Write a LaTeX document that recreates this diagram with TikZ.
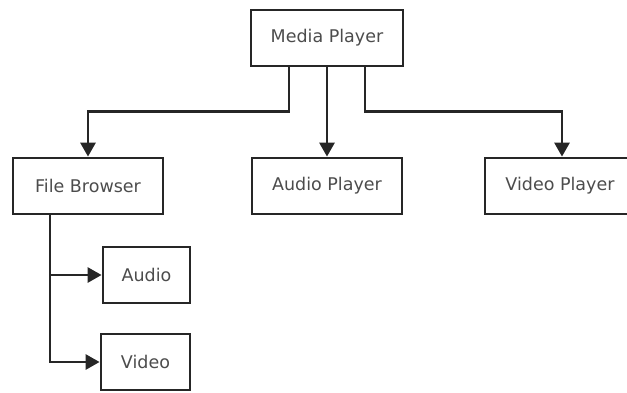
\documentclass[tikz,border=0pt]{standalone}
\usepackage{fontspec}
\setmainfont{DejaVu Sans}
\usetikzlibrary{arrows.meta}
\begin{document}
\begin{tikzpicture}[x=1pt,y=-1pt,
  box/.style={draw=black!85,line width=2.8pt,rectangle,minimum height=56pt,inner sep=0pt,
    text=black!70,font=\fontsize{17.5}{20}\selectfont},
  arr/.style={draw=black!85,line width=2.8pt,-{Triangle[length=14pt,width=15pt]}}]
\useasboundingbox (0,0) rectangle (627,392);
\node[box,minimum width=152pt] (media) at (327,38) {Media Player};
\node[box,minimum width=150pt] (fb) at (88,186) {File Browser};
\node[box,minimum width=150pt] (ap) at (327,186) {Audio Player};
\node[box,minimum width=150pt] (vp) at (560,186) {Video Player};
\node[box,minimum width=87pt] (audio) at (146.5,275) {Audio};
\node[box,minimum width=89pt] (video) at (145.5,362) {Video};
\draw[arr] ([xshift=-38pt]media.south) -- ++(0,44) -| (fb.north);
\draw[arr] (media.south) -- (ap.north);
\draw[arr] ([xshift=38pt]media.south) -- ++(0,44) -| ([xshift=2pt]vp.north);
\draw[arr] ([xshift=-38pt]fb.south) |- (audio.west);
\draw[arr] ([xshift=-38pt]fb.south) |- (video.west);
\end{tikzpicture}
\end{document}
